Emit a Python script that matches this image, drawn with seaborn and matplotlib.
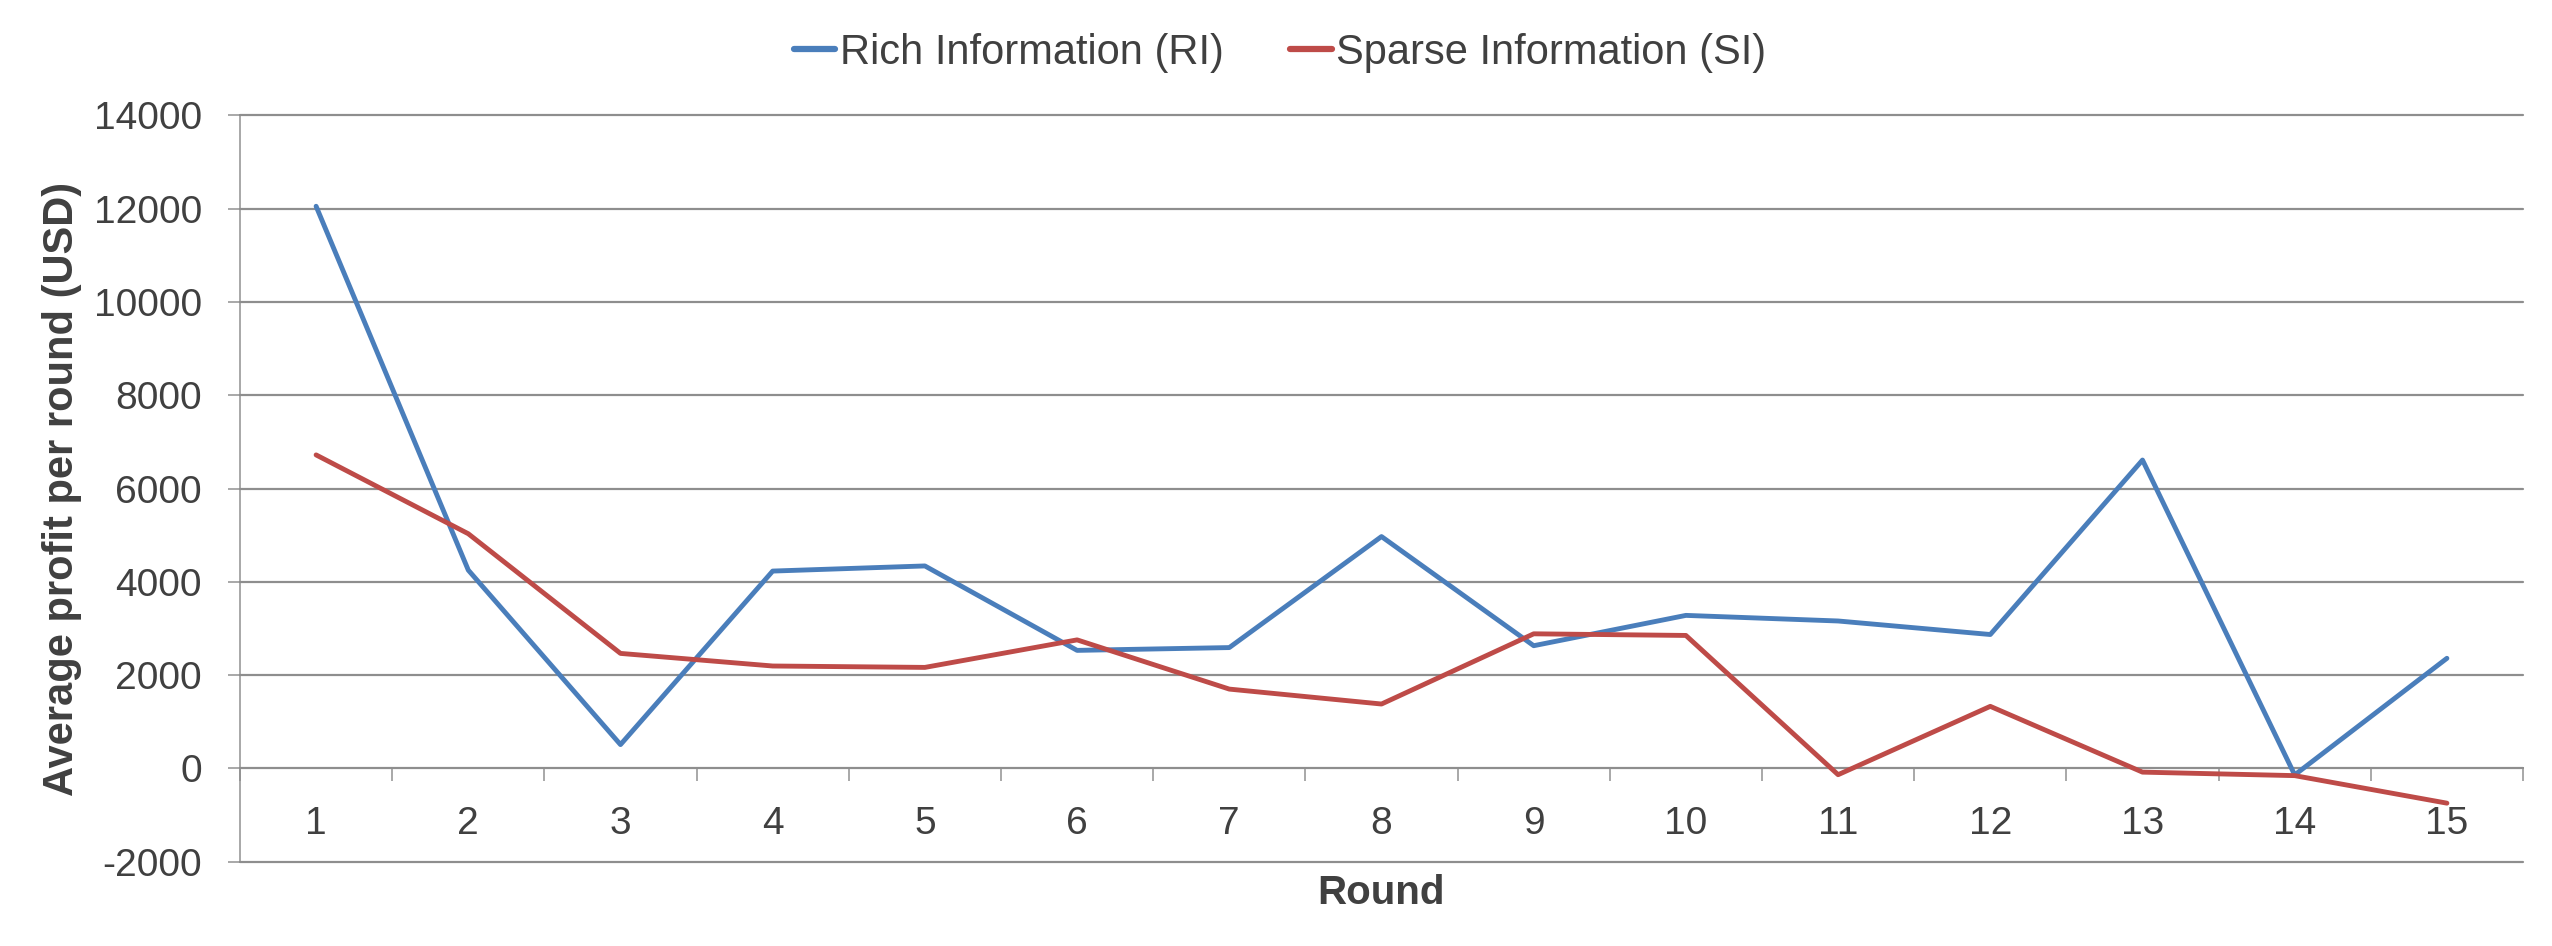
import matplotlib
matplotlib.use("Agg")
import matplotlib.pyplot as plt
import seaborn as sns
import pandas as pd
import numpy as np

rounds = list(range(1, 16))
rich_info = [12050, 4250, 510, 4230, 4340, 2530, 2590, 4970, 2630, 3280, 3160, 2870, 6610, -140, 2360]
sparse_info = [6720, 5030, 2465, 2195, 2165, 2755, 1700, 1380, 2885, 2850, -135, 1330, -80, -155, -745]
series_names = ["Rich Information (RI)", "Sparse Information (SI)"]
series_colors = ["#4A7EBB", "#BE4B48"]
yticks = list(range(-2000, 14001, 2000))

df = pd.DataFrame({
    "Round": rounds * 2,
    "Profit": rich_info + sparse_info,
    "Series": [series_names[0]] * len(rounds) + [series_names[1]] * len(rounds),
})

sns.set_theme(style="white")
plt.rcParams["font.family"] = ["Liberation Sans", "DejaVu Sans"]

W, H = 2552, 946
fig = plt.figure(figsize=(W / 100, H / 100), dpi=100)
left, right, top, bottom = 240, 2523, 115.3, 861.7
ax = fig.add_axes([left / W, 1 - bottom / H, (right - left) / W, (bottom - top) / H])

text_color = "#404040"
grid_color = "#8E8E8E"
px = 72 / 100  # points per pixel

sns.lineplot(data=df, x="Round", y="Profit", hue="Series", hue_order=series_names,
             palette=dict(zip(series_names, series_colors)), linewidth=3.5,
             ax=ax, legend=False, sort=False)

ax.set_xlim(0.5, 15.5)
ax.set_ylim(-2000, 14000)
ax.set_yticks(yticks)
ax.set_yticklabels([str(v) for v in yticks])
ax.set_xticks(rounds)
ax.set_xticklabels([str(r) for r in rounds])
ax.set_xticks(np.arange(0.5, 15.6, 1.0), minor=True)

ax.yaxis.grid(True, color=grid_color, linewidth=2.2 * px)
ax.xaxis.grid(False)
ax.set_axisbelow(True)
for gl in ax.get_ygridlines():
    gl.set_clip_on(False)

for s in ["top", "right"]:
    ax.spines[s].set_visible(False)
ax.spines["left"].set_color(grid_color)
ax.spines["left"].set_linewidth(1.5 * px)
ax.spines["bottom"].set_position(("data", 0))
ax.spines["bottom"].set_color(grid_color)
ax.spines["bottom"].set_linewidth(2 * px)
ax.spines["bottom"].set_zorder(0.5)

ax.tick_params(axis="y", which="major", direction="out", length=12 * px, width=1.5 * px,
               color=grid_color, labelsize=28, labelcolor=text_color, pad=26 * px, left=True)
ax.tick_params(axis="x", which="major", length=0, labelsize=28, labelcolor=text_color,
               pad=38 * px, bottom=True)
ax.tick_params(axis="x", which="minor", direction="out", length=13 * px, width=1.5 * px,
               color=grid_color, bottom=True)

ax.set_xlabel("Round", fontsize=29, fontweight="bold", color=text_color)
ax.xaxis.set_label_coords(0.5, 1 - (893 - top) / (bottom - top))
ax.xaxis.label.set_va("center")
ax.set_ylabel("Average profit per round (USD)", fontsize=30, fontweight="bold", color=text_color)
ax.yaxis.set_label_coords((82 - left) / (right - left), 0.5)

handles = [plt.Line2D([], [], color=c, linewidth=4.5) for c in series_colors]
fig.legend(handles, series_names, loc="center", bbox_to_anchor=(1280 / W, 1 - 53 / H),
           ncol=2, frameon=False, fontsize=30, labelcolor=text_color,
           handlelength=1.0, handletextpad=0.1, columnspacing=1.6,
           borderaxespad=0, borderpad=0)

fig.savefig("out.png", dpi=100, facecolor="white")
